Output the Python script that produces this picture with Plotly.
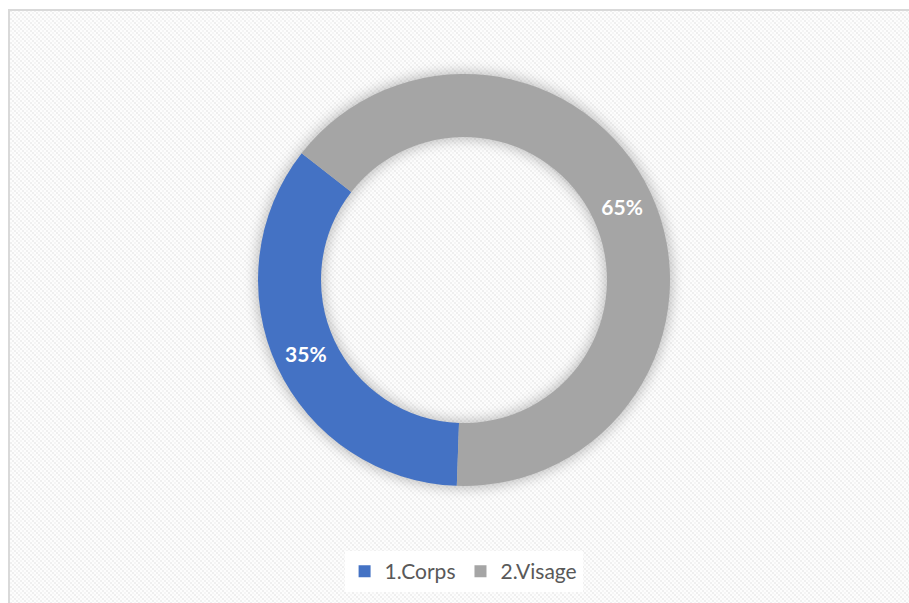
import base64
import plotly.graph_objects as go

# Shares of the two product categories
categories = ["1.Corps", "2.Visage"]
shares = [35, 65]
colors = ["#4472C4", "#A5A5A5"]

W, H = 909, 603
cx, cy, r_out, r_in = 464, 280, 206, 143

# Background: fine diagonal texture, chart frame and a soft shadow under the ring
ring_mid = (r_out + r_in) / 2
ring_w = r_out - r_in
svg = f"""<svg xmlns='http://www.w3.org/2000/svg' width='{W}' height='{H}' viewBox='0 0 {W} {H}'>
<defs>
<pattern id='p' width='8' height='8' patternUnits='userSpaceOnUse'>
<rect width='8' height='8' fill='#fdfdfd'/>
<rect x='0' y='0' width='2' height='2' fill='#efefef'/>
<rect x='2' y='2' width='2' height='2' fill='#efefef'/>
<rect x='4' y='4' width='2' height='2' fill='#efefef'/>
<rect x='6' y='6' width='2' height='2' fill='#efefef'/>
<rect x='4' y='0' width='2' height='2' fill='#f5f5f5'/>
<rect x='6' y='2' width='2' height='2' fill='#f5f5f5'/>
<rect x='0' y='4' width='2' height='2' fill='#f5f5f5'/>
<rect x='2' y='6' width='2' height='2' fill='#f5f5f5'/>
</pattern>
<filter id='b' x='-20%' y='-20%' width='140%' height='140%'>
<feGaussianBlur stdDeviation='6'/>
</filter>
</defs>
<rect x='0' y='0' width='{W}' height='{H}' fill='#ffffff'/>
<rect x='9' y='10' width='{W + 20}' height='{H + 20}' fill='url(#p)' stroke='#d9d9d9' stroke-width='2'/>
<circle cx='{cx}' cy='{cy}' r='{ring_mid}' fill='none' stroke='#000000' stroke-opacity='0.22'
 stroke-width='{ring_w + 6}' filter='url(#b)'/>
</svg>"""
bg_uri = "data:image/svg+xml;base64," + base64.b64encode(svg.encode()).decode()

fig = go.Figure(
    go.Pie(
        labels=categories,
        values=shares,
        hole=r_in / r_out,
        sort=False,
        direction="clockwise",
        rotation=182,
        marker=dict(colors=colors, line=dict(width=0)),
        texttemplate="%{percent:.0%}",
        textposition="inside",
        insidetextorientation="horizontal",
        textfont=dict(family="Lato, 'Open Sans', sans-serif", size=21, color="#ffffff", weight="bold"),
        domain=dict(
            x=[(cx - r_out) / W, (cx + r_out) / W],
            y=[(H - cy - r_out) / H, (H - cy + r_out) / H],
        ),
        hoverinfo="label+percent",
    )
)

fig.update_layout(
    width=W,
    height=H,
    margin=dict(l=0, r=0, t=0, b=0),
    paper_bgcolor="rgba(0,0,0,0)",
    plot_bgcolor="rgba(0,0,0,0)",
    images=[
        dict(
            source=bg_uri,
            xref="paper", yref="paper",
            x=0, y=1, sizex=1, sizey=1,
            xanchor="left", yanchor="top",
            sizing="stretch",
            layer="below",
        )
    ],
    showlegend=True,
    legend=dict(
        orientation="h",
        x=0.51, xanchor="center",
        y=0.018, yanchor="bottom",
        bgcolor="#ffffff",
        font=dict(family="Lato, 'Open Sans', sans-serif", size=21, color="#595959"),
        itemwidth=30,
        tracegroupgap=0,
    ),
)

fig.write_html("out.html")
